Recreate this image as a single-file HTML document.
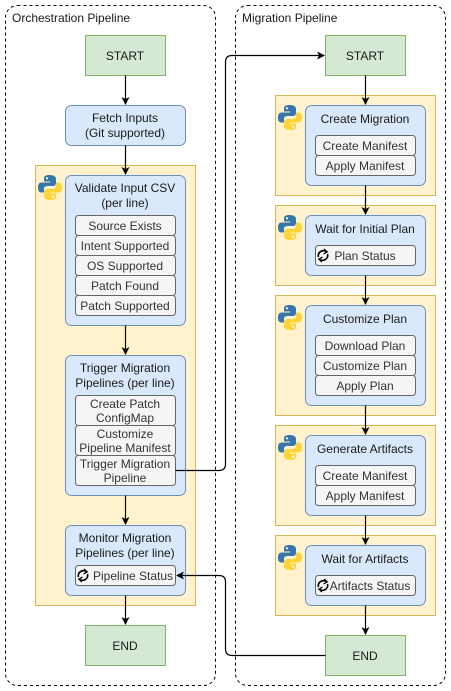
<!DOCTYPE html>
<html><head><meta charset="utf-8"><style>
html,body{margin:0;padding:0;background:#fff;}
svg{display:block;font-family:"Liberation Sans",Arial,sans-serif;font-size:12px;}
</style></head><body>
<svg width="451" height="691" viewBox="0 0 451 691" xmlns="http://www.w3.org/2000/svg">
<defs>
<marker id="ar" markerWidth="8" markerHeight="8" refX="7" refY="4" orient="auto" markerUnits="userSpaceOnUse">
<path d="M0,0 L8,4 L0,8 L2,4 Z" fill="#000"/>
</marker>
<g id="py">
<path d="M11.5,0 C6,0 6,2.5 6,4 L6,6.5 L12,6.5 L12,7.5 L3.5,7.5 C1,7.5 0,9.5 0,12.5 C0,15.5 1,17.5 3.5,17.5 L6,17.5 L6,14 C6,12 7.5,11 9.5,11 L15,11 C16.8,11 18,9.8 18,8 L18,4 C18,2 16.5,0 11.5,0 Z" fill="#3776ab"/>
<circle cx="9" cy="3.3" r="1.1" fill="#fff"/>
<path d="M12.5,25 C18,25 18,22.5 18,21 L18,18.5 L12,18.5 L12,17.5 L20.5,17.5 C23,17.5 24,15.5 24,12.5 C24,9.5 23,7.5 20.5,7.5 L18,7.5 L18,11 C18,13 16.5,14 14.5,14 L9,14 C7.2,14 6,15.2 6,17 L6,21 C6,23 7.5,25 12.5,25 Z" fill="#ffd43b"/>
<circle cx="15" cy="21.7" r="1.1" fill="#fff"/>
</g>
<g id="sync" fill="none" stroke="#000" stroke-width="1.6">
<path d="M-4.5,1.5 A5,5 0 0 1 3,-4"/>
<path d="M4.5,-1.5 A5,5 0 0 1 -3,4"/>
<path d="M1,-6.5 L4.2,-3.6 L0.6,-1.6" stroke-width="1.3"/>
<path d="M-1,6.5 L-4.2,3.6 L-0.6,1.6" stroke-width="1.3"/>
</g>
</defs>

<!-- containers -->
<rect x="5.5" y="5.5" width="210" height="680" rx="12" fill="none" stroke="#000" stroke-dasharray="3,3"/>
<rect x="235.5" y="5.5" width="210" height="680" rx="12" fill="none" stroke="#000" stroke-dasharray="3,3"/>
<text x="12" y="22" fill="#1a1a1a">Orchestration Pipeline</text>
<text x="242" y="22" fill="#1a1a1a">Migration Pipeline</text>

<g fill="#1a1a1a" text-anchor="middle">
<!-- LEFT -->
<rect x="85.5" y="35.5" width="80" height="40" fill="#d5e8d4" stroke="#82b366"/>
<text x="125" y="60">START</text>
<rect x="65.5" y="105.5" width="120" height="40" rx="6" fill="#dae8fc" stroke="#6c8ebf"/>
<text x="125" y="122">Fetch Inputs</text>
<text x="125" y="137">(Git supported)</text>

<rect x="35.5" y="165.5" width="160" height="440" fill="#fff2cc" stroke="#d6b656"/>
<use href="#py" x="38" y="175"/>

<rect x="65.5" y="175.5" width="120" height="150" rx="6" fill="#dae8fc" stroke="#6c8ebf"/>
<text x="125" y="192">Validate Input CSV</text>
<text x="125" y="207">(per line)</text>
<g fill="#f5f5f5" stroke="#666">
<rect x="75.5" y="215.5" width="100" height="20" rx="3"/>
<rect x="75.5" y="235.5" width="100" height="20" rx="3"/>
<rect x="75.5" y="255.5" width="100" height="20" rx="3"/>
<rect x="75.5" y="275.5" width="100" height="20" rx="3"/>
<rect x="75.5" y="295.5" width="100" height="20" rx="3"/>
</g>
<g fill="#333">
<text x="125" y="230">Source Exists</text>
<text x="125" y="250">Intent Supported</text>
<text x="125" y="270">OS Supported</text>
<text x="125" y="290">Patch Found</text>
<text x="125" y="310">Patch Supported</text>
</g>

<rect x="65.5" y="355.5" width="120" height="140" rx="6" fill="#dae8fc" stroke="#6c8ebf"/>
<text x="125" y="372">Trigger Migration</text>
<text x="125" y="387">Pipelines (per line)</text>
<g fill="#f5f5f5" stroke="#666">
<rect x="75.5" y="395.5" width="100" height="30" rx="3"/>
<rect x="75.5" y="425.5" width="100" height="30" rx="3"/>
<rect x="75.5" y="455.5" width="100" height="30" rx="3"/>
</g>
<g fill="#333">
<text x="125" y="408">Create Patch</text>
<text x="125" y="422">ConfigMap</text>
<text x="125" y="438">Customize</text>
<text x="125" y="452">Pipeline Manifest</text>
<text x="125" y="468">Trigger Migration</text>
<text x="125" y="482">Pipeline</text>
</g>

<rect x="65.5" y="525.5" width="120" height="70" rx="6" fill="#dae8fc" stroke="#6c8ebf"/>
<text x="125" y="542">Monitor Migration</text>
<text x="125" y="557">Pipelines (per line)</text>
<rect x="75.5" y="565.5" width="100" height="20" rx="3" fill="#f5f5f5" stroke="#666"/>
<use href="#sync" x="83" y="575.5"/>
<text x="133" y="580" fill="#333">Pipeline Status</text>

<rect x="85.5" y="625.5" width="80" height="40" fill="#d5e8d4" stroke="#82b366"/>
<text x="125" y="650">END</text>

<!-- RIGHT -->
<rect x="325.5" y="35.5" width="80" height="40" fill="#d5e8d4" stroke="#82b366"/>
<text x="365" y="60">START</text>

<rect x="275.5" y="95.5" width="160" height="100" fill="#fff2cc" stroke="#d6b656"/>
<use href="#py" x="278" y="105"/>
<rect x="305.5" y="105.5" width="120" height="80" rx="6" fill="#dae8fc" stroke="#6c8ebf"/>
<text x="365" y="123">Create Migration</text>
<rect x="315.5" y="135.5" width="100" height="20" rx="3" fill="#f5f5f5" stroke="#666"/>
<rect x="315.5" y="155.5" width="100" height="20" rx="3" fill="#f5f5f5" stroke="#666"/>
<text x="365" y="150" fill="#333">Create Manifest</text>
<text x="365" y="170" fill="#333">Apply Manifest</text>

<rect x="275.5" y="205.5" width="160" height="80" fill="#fff2cc" stroke="#d6b656"/>
<use href="#py" x="278" y="215"/>
<rect x="305.5" y="215.5" width="120" height="60" rx="6" fill="#dae8fc" stroke="#6c8ebf"/>
<text x="365" y="233">Wait for Initial Plan</text>
<rect x="315.5" y="245.5" width="100" height="20" rx="3" fill="#f5f5f5" stroke="#666"/>
<use href="#sync" x="323" y="255.5"/>
<text x="365" y="260" fill="#333">Plan Status</text>

<rect x="275.5" y="295.5" width="160" height="120" fill="#fff2cc" stroke="#d6b656"/>
<use href="#py" x="278" y="305"/>
<rect x="305.5" y="305.5" width="120" height="100" rx="6" fill="#dae8fc" stroke="#6c8ebf"/>
<text x="365" y="323">Customize Plan</text>
<rect x="315.5" y="335.5" width="100" height="20" rx="3" fill="#f5f5f5" stroke="#666"/>
<rect x="315.5" y="355.5" width="100" height="20" rx="3" fill="#f5f5f5" stroke="#666"/>
<rect x="315.5" y="375.5" width="100" height="20" rx="3" fill="#f5f5f5" stroke="#666"/>
<text x="365" y="350" fill="#333">Download Plan</text>
<text x="365" y="370" fill="#333">Customize Plan</text>
<text x="365" y="390" fill="#333">Apply Plan</text>

<rect x="275.5" y="425.5" width="160" height="100" fill="#fff2cc" stroke="#d6b656"/>
<use href="#py" x="278" y="435"/>
<rect x="305.5" y="435.5" width="120" height="80" rx="6" fill="#dae8fc" stroke="#6c8ebf"/>
<text x="365" y="453">Generate Artifacts</text>
<rect x="315.5" y="465.5" width="100" height="20" rx="3" fill="#f5f5f5" stroke="#666"/>
<rect x="315.5" y="485.5" width="100" height="20" rx="3" fill="#f5f5f5" stroke="#666"/>
<text x="365" y="480" fill="#333">Create Manifest</text>
<text x="365" y="500" fill="#333">Apply Manifest</text>

<rect x="275.5" y="535.5" width="160" height="80" fill="#fff2cc" stroke="#d6b656"/>
<use href="#py" x="278" y="545"/>
<rect x="305.5" y="545.5" width="120" height="60" rx="6" fill="#dae8fc" stroke="#6c8ebf"/>
<text x="365" y="563">Wait for Artifacts</text>
<rect x="315.5" y="575.5" width="100" height="20" rx="3" fill="#f5f5f5" stroke="#666"/>
<use href="#sync" x="323" y="585.5"/>
<text x="370" y="590" fill="#333">Artifacts Status</text>

<rect x="325.5" y="635.5" width="80" height="40" fill="#d5e8d4" stroke="#82b366"/>
<text x="365" y="660">END</text>
</g>

<!-- arrows -->
<g stroke="#000" stroke-width="1.2" fill="none" marker-end="url(#ar)">
<path d="M125.5,75.5 V104"/>
<path d="M125.5,145.5 V174"/>
<path d="M125.5,325.5 V354"/>
<path d="M125.5,495.5 V524"/>
<path d="M125.5,595.5 V624"/>
<path d="M365.5,75.5 V104"/>
<path d="M365.5,185.5 V214"/>
<path d="M365.5,275.5 V304"/>
<path d="M365.5,405.5 V434"/>
<path d="M365.5,515.5 V544"/>
<path d="M365.5,605.5 V634"/>
<path d="M175.5,470.5 H219 Q225.5,470.5 225.5,464 V62 Q225.5,55.5 232,55.5 H324"/>
<path d="M325.5,655.5 H232 Q225.5,655.5 225.5,649 V582 Q225.5,575.5 219,575.5 H177"/>
</g>
</svg>
</body></html>
